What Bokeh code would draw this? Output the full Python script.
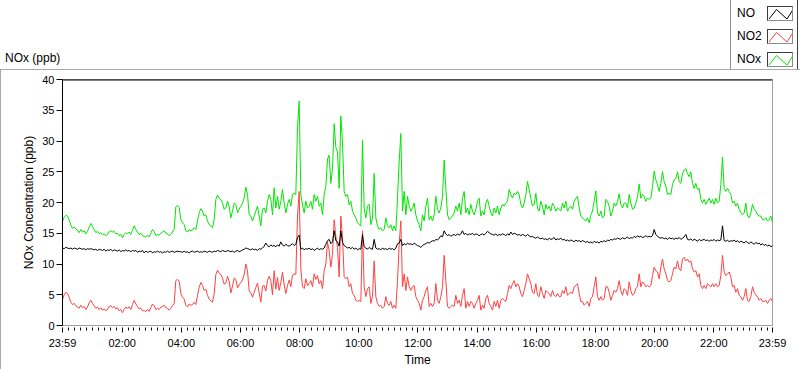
import numpy as np
from bokeh.plotting import figure
from bokeh.layouts import column
from bokeh.models import Range1d, FixedTicker, Span, Div
from bokeh.embed import file_html
from bokeh.resources import INLINE

# ---------------- data (ppb), sampled uniformly from 23:59 to 23:59 next day ----------------
nox_ppb = [
    16.9, 17.6, 17.9, 17.8, 17.2, 16.3, 15.8, 16.0, 15.7, 15.5,
    15.1, 15.6, 15.2, 15.4, 14.9, 15.3, 16.0, 16.6, 16.1, 15.6,
    15.1, 15.3, 14.9, 15.1, 14.8, 14.9, 14.6, 14.8, 15.3, 15.4,
    15.2, 15.3, 14.9, 15.0, 14.6, 14.8, 14.3, 14.8, 15.1, 14.9,
    15.2, 14.8, 15.5, 16.2, 15.6, 15.2, 14.8, 15.0, 14.6, 14.5,
    14.4, 14.7, 14.4, 15.0, 15.6, 15.3, 14.6, 14.8, 14.7, 15.0,
    15.2, 15.4, 15.0, 14.9, 14.6, 14.8, 15.2, 15.6, 19.3, 19.5,
    19.2,
    17.2, 16.7, 16.4, 15.4, 15.2, 15.6, 15.4, 15.5, 15.9, 15.6,
    17.0, 18.3, 19.0, 18.6, 17.8, 18.0, 17.0, 16.4, 16.2, 15.9,
    17.2, 20.5, 21.2, 20.7, 20.5, 19.9, 18.9, 19.1, 20.2, 19.4,
    17.5, 18.6, 19.9, 19.7, 18.3, 18.9, 19.4, 19.9, 20.7, 22.5,
    21.3, 18.0, 17.8, 17.0, 17.8, 18.6, 19.4, 17.8, 16.2, 18.9,
    19.1, 18.3, 20.2, 21.3, 20.5, 18.0, 22.4, 19.1, 21.0, 18.9,
    20.2, 22.1, 19.9, 18.3, 19.7, 20.5, 19.4, 21.3, 21.5, 21.3,
    32.2, 36.5,
    21.3, 19.6, 18.3, 20.2, 19.1, 19.4, 20.2, 18.9, 21.3, 20.2,
    21.0, 19.4, 19.9, 18.0, 21.3, 22.6, 27.1, 27.7, 23.1, 25.5,
    32.8, 29.0, 28.2, 22.3, 34.1, 29.8, 21.8, 21.0, 21.3, 19.6,
    20.2, 18.6, 18.0, 17.5, 16.7, 16.4, 16.2, 30.1, 19.1, 17.5,
    19.4, 19.7, 16.4, 17.5, 24.7, 17.5, 16.2, 15.6, 15.9, 15.4,
    15.6, 17.5, 16.2, 15.9, 16.4, 15.4, 16.2, 15.4, 20.7, 26.6,
    31.2, 18.6, 21.8, 18.0, 21.0, 19.4, 18.6, 19.1, 19.9, 18.0,
    17.0, 16.4,
    15.4, 18.0, 17.0, 19.4, 20.7, 17.2, 17.8, 17.0, 18.0, 21.0,
    18.9, 18.3, 19.1, 21.0, 26.9, 22.3, 18.0, 17.2, 17.5, 17.8,
    18.3, 19.4, 18.6, 19.9, 18.0, 20.7, 21.8, 18.3, 19.1, 18.0,
    19.7, 18.6, 18.0, 18.9, 20.2, 20.7, 17.8, 18.6, 18.0, 19.9,
    20.5, 19.4, 18.3, 17.8, 19.1, 18.3, 19.4, 18.0, 19.1, 19.7,
    19.4, 19.9, 20.2, 22.1, 21.3, 20.7, 21.5, 21.3, 21.8, 21.3,
    19.7, 19.1, 19.9, 21.3, 23.4, 22.1, 20.7, 19.4, 19.7, 21.5,
    19.1, 18.6,
    20.2, 19.4, 18.0, 19.7, 18.9, 19.4, 18.6, 19.9, 19.4, 18.6,
    19.1, 18.9, 18.6, 19.9, 19.1, 20.2, 18.6, 19.1, 19.4, 18.9,
    20.2, 20.7, 21.0, 19.1, 17.8, 17.5, 17.2, 17.0, 17.5, 16.7,
    18.0, 18.6, 20.2, 21.9, 18.3, 17.8, 18.6, 17.5, 17.8, 20.5,
    20.2, 19.4, 17.8, 18.6, 19.9, 19.4, 20.2, 21.4, 19.7, 19.1,
    19.9, 19.9, 19.1, 21.3, 19.9, 18.9, 19.1, 19.9, 20.9, 23.0,
    20.7, 21.3, 21.0, 20.2, 20.7, 20.5, 20.7, 22.6, 25.1, 23.7,
    22.9, 21.8,
    23.1, 25.0, 23.4, 22.6, 21.3, 21.5, 21.3, 22.9, 23.7, 23.9,
    25.0, 23.4, 23.1, 24.7, 25.3, 25.5, 24.7, 24.2, 25.0, 23.1,
    22.3, 23.1, 22.1, 22.3, 20.5, 19.9, 20.5, 19.7, 20.2, 20.7,
    19.9, 20.5, 19.7, 20.7, 19.9, 20.2, 22.9, 27.4, 22.3, 21.8,
    22.3, 21.8, 21.3, 19.9, 20.2, 19.4, 19.9, 18.9, 18.3, 18.0,
    18.3, 19.9, 17.8, 17.5, 18.3, 19.7, 18.9, 18.6, 18.0, 17.8,
    17.8, 17.2, 17.2, 17.5, 17.0, 17.2, 17.8, 16.7,
]

no2_ppb = [
    4.2, 5.0, 5.4, 5.2, 4.6, 3.8, 3.4, 3.6, 3.2, 3.0,
    2.8, 3.3, 2.9, 3.1, 2.6, 3.0, 3.7, 4.1, 3.6, 3.2,
    2.8, 3.0, 2.6, 2.9, 2.5, 2.7, 2.4, 2.6, 3.1, 3.2,
    2.9, 3.1, 2.7, 2.9, 2.4, 2.6, 2.1, 2.6, 3.0, 2.8,
    3.0, 2.6, 3.4, 4.1, 3.5, 3.1, 2.7, 2.8, 2.4, 2.4,
    2.3, 2.6, 2.3, 2.9, 3.5, 3.2, 2.6, 2.8, 2.6, 3.0,
    3.1, 3.3, 2.9, 2.8, 2.5, 2.8, 3.2, 3.6, 7.3, 7.5,
    7.2,
    5.2, 4.6, 4.3, 3.3, 3.0, 3.5, 3.3, 3.4, 3.8, 3.4,
    4.9, 6.2, 7.0, 6.5, 5.7, 5.9, 4.9, 4.3, 4.0, 3.8,
    5.1, 8.3, 9.0, 8.5, 8.3, 7.7, 6.7, 6.9, 8.0, 7.2,
    5.3, 6.4, 7.7, 7.5, 6.1, 6.6, 7.0, 7.4, 8.3, 10.0,
    8.9, 5.6, 5.3, 4.6, 5.4, 6.2, 6.9, 5.3, 3.8, 6.4,
    6.5, 5.6, 7.3, 8.0, 7.3, 5.0, 8.9, 5.9, 7.8, 5.7,
    7.0, 8.7, 6.6, 5.2, 6.5, 7.4, 6.3, 8.2, 8.4, 8.3,
    17.8, 21.8,
    9.2, 6.3, 6.0, 7.6, 6.5, 6.8, 7.3, 6.3, 8.4, 7.5,
    8.1, 6.8, 7.3, 6.0, 8.9, 10.0, 13.5, 12.2, 9.5, 11.6,
    17.2, 14.5, 12.7, 7.9, 17.8, 14.3, 7.9, 7.6, 7.9, 6.3,
    6.8, 5.2, 4.9, 4.1, 3.9, 4.1, 3.9, 15.4, 6.3, 4.7,
    6.0, 6.3, 3.6, 4.7, 10.5, 4.7, 3.6, 3.1, 3.3, 2.8,
    3.1, 4.7, 3.6, 3.3, 3.9, 2.8, 3.3, 2.8, 7.3, 13.2,
    17.0, 6.3, 8.4, 5.7, 7.9, 6.3, 5.7, 6.3, 6.5, 4.7,
    4.1, 3.6,
    2.5, 4.1, 4.7, 5.7, 6.3, 3.1, 3.6, 3.1, 3.6, 6.8,
    4.1, 3.6, 4.7, 6.3, 11.4, 7.3, 3.1, 2.8, 3.1, 3.3,
    3.1, 4.9, 3.6, 4.1, 3.1, 4.9, 6.0, 2.8, 3.9, 3.1,
    3.9, 3.6, 2.8, 3.6, 4.1, 4.9, 2.5, 3.3, 2.8, 4.4,
    4.9, 3.6, 3.1, 2.5, 3.9, 3.1, 4.1, 2.8, 4.1, 4.4,
    4.1, 3.9, 5.2, 6.5, 6.0, 6.8, 7.3, 6.3, 6.8, 6.3,
    5.2, 4.7, 5.7, 6.8, 8.4, 7.6, 6.8, 5.4, 5.2, 6.8,
    4.9, 4.7,
    6.3, 5.2, 4.4, 5.7, 5.4, 5.2, 4.7, 5.7, 4.9, 4.7,
    5.2, 4.7, 4.7, 5.7, 5.2, 6.3, 4.9, 5.2, 5.4, 5.2,
    6.3, 6.5, 6.8, 5.2, 3.9, 3.9, 3.3, 3.6, 3.9, 3.1,
    4.4, 4.7, 6.3, 7.9, 4.7, 4.1, 4.7, 4.1, 4.4, 6.3,
    6.3, 5.4, 4.1, 4.9, 5.7, 5.4, 6.0, 7.3, 5.7, 4.9,
    6.0, 5.7, 4.9, 7.1, 5.7, 4.9, 5.2, 6.0, 6.3, 8.4,
    6.3, 7.1, 6.8, 6.3, 6.5, 6.3, 6.5, 8.1, 9.5, 8.9,
    8.7, 7.6,
    9.5, 10.8, 9.2, 8.4, 7.3, 7.1, 7.3, 8.4, 9.5, 9.2,
    10.5, 9.2, 8.9, 10.8, 11.1, 10.5, 10.8, 10.3, 10.5, 9.2,
    8.7, 8.9, 7.9, 8.4, 6.5, 6.0, 6.5, 6.0, 6.8, 6.5,
    6.3, 6.8, 6.3, 6.8, 6.3, 6.5, 8.1, 11.4, 8.7, 8.1,
    8.4, 8.7, 7.9, 6.3, 6.5, 5.4, 6.0, 4.9, 4.7, 4.1,
    4.7, 6.0, 4.1, 3.9, 4.7, 6.3, 5.4, 4.9, 4.7, 4.1,
    4.4, 3.9, 3.9, 4.1, 3.6, 4.1, 4.4, 3.9,
]

no_ppb = [
    12.6, 12.5, 12.7, 12.6, 12.5, 12.6, 12.4, 12.6, 12.5, 12.4,
    12.6, 12.5, 12.4, 12.5, 12.3, 12.5, 12.4, 12.5, 12.4, 12.3,
    12.4, 12.2, 12.4, 12.3, 12.2, 12.4, 12.1, 12.3, 12.2, 12.4,
    12.1, 12.3, 12.2, 12.1, 12.3, 12.0, 12.2, 12.1, 12.3, 12.1,
    12.2, 12.0, 12.2, 12.1, 12.2, 11.9, 12.1, 12.0, 12.2, 11.8,
    12.1, 11.9, 12.0, 12.1, 11.8, 12.0, 11.9, 12.1, 11.9, 12.0,
    11.8, 12.0, 11.9, 12.1, 11.9, 12.0, 12.1, 11.9, 12.0, 12.1,
    12.0,
    12.0, 11.9, 12.1, 11.9, 12.0, 11.8, 12.0, 12.1, 11.9, 12.0,
    12.1, 11.9, 12.0, 11.9, 12.1, 12.0, 11.9, 12.1, 12.0, 11.9,
    12.1, 12.0, 12.2, 12.1, 12.0, 12.2, 12.1, 12.0, 12.2, 12.1,
    12.0, 12.1, 11.9, 12.1, 12.2, 12.0, 12.1, 12.3, 12.4, 12.6,
    12.5, 12.4, 12.3, 12.5, 12.3, 12.4, 12.2, 12.5, 12.4, 12.6,
    12.9, 13.4, 13.0, 12.8, 13.1, 12.9, 13.0, 12.8, 13.1, 12.9,
    13.6, 13.1, 12.9, 13.2, 13.0, 12.9, 13.1, 13.3, 13.0, 13.2,
    14.3, 14.7,
    12.4, 12.6, 12.3, 12.5, 12.4, 12.6, 12.3, 12.5, 12.2, 12.4,
    12.6, 12.3, 12.5, 12.4, 12.6,
    13.2, 13.8, 14.0, 13.3, 13.6, 15.4, 13.8, 13.6, 12.9, 15.4,
    13.5, 13.0, 12.8, 12.6, 12.7,
    12.5, 12.7, 12.4, 12.6, 12.3, 12.5, 12.4, 14.8, 12.8, 12.6,
    12.4, 12.7, 12.5, 12.4, 14.0,
    12.6, 12.4, 12.5, 12.3, 12.6, 12.4, 12.5, 12.3, 12.6, 12.4,
    12.5, 12.3, 12.6, 13.3, 13.4,
    14.0, 13.0, 13.3, 13.1, 13.4, 13.2, 13.3, 13.1, 13.4, 13.2,
    13.0, 12.9,
    12.7, 13.0, 13.2, 13.3, 13.5, 13.4, 13.6, 13.8, 13.7, 14.0,
    13.9, 14.2, 14.6, 14.4, 15.4,
    14.9, 14.6, 14.8, 14.5, 14.7, 14.8, 14.6, 14.9, 14.7, 14.9,
    15.4, 14.8, 15.0, 14.7, 14.9,
    14.8, 15.0, 14.7, 14.9, 14.8, 14.6, 14.8, 14.9, 14.7, 15.0,
    15.3, 15.1, 14.9, 14.8, 14.7,
    14.9, 14.6, 14.8, 14.7, 14.9, 14.8, 14.6, 14.9, 14.7, 15.2,
    14.8, 15.0, 14.9, 14.7, 14.8,
    14.6, 14.8, 14.7, 14.5, 14.8, 14.6, 14.4, 14.5, 14.3, 14.2,
    14.4, 14.2,
    14.1, 14.2, 14.0, 14.1, 13.9, 14.2, 14.0, 14.1, 14.3, 13.9,
    14.1, 14.0, 14.2, 13.9, 14.0,
    13.8, 13.9, 13.7, 13.9, 13.8, 13.6, 13.9, 13.7, 13.8, 13.6,
    13.8, 13.7, 13.5, 13.7, 13.4,
    13.6, 13.4, 13.7, 13.5, 13.6, 13.4, 13.7, 13.6, 13.8, 13.6,
    13.9, 13.8, 14.0, 13.9, 14.1,
    14.0, 14.2, 14.1, 14.0, 14.3, 14.1, 14.2, 14.4, 14.1, 14.3,
    14.2, 14.5, 14.3, 14.6, 14.4,
    14.5, 14.3, 14.4, 14.6, 14.4, 14.5, 14.4, 14.6, 15.6, 14.8,
    14.5, 14.3,
    14.2, 14.3, 14.1, 14.2, 14.0, 14.3, 14.1, 14.2, 14.0, 14.2,
    14.1, 14.3, 14.0, 14.2, 14.4,
    14.8, 14.0, 13.9, 14.1, 13.8, 14.0, 13.9, 13.7, 14.0, 13.8,
    13.9, 14.0, 13.8, 13.9, 13.7,
    13.9, 13.8, 14.0, 13.7, 13.9, 13.8, 13.9, 16.2, 13.8, 13.7,
    13.9, 13.6, 13.8, 13.7, 13.9,
    13.6, 13.8, 13.5, 13.7, 13.6, 13.4, 13.7, 13.5, 13.3, 13.6,
    13.4, 13.2, 13.5, 13.3, 13.4,
    13.1, 13.3, 13.0, 13.2, 12.9, 13.1, 12.8, 13.0,
]

series_names = ["NO", "NO2", "NOx"]
series_colors = ["#000000", "#ff4040", "#00e600"]

# time axis: minutes after 23:59
tick_minutes = [0, 121, 241, 361, 481, 601, 721, 841, 961, 1081, 1201, 1321, 1440]
tick_labels = ["23:59", "02:00", "04:00", "06:00", "08:00", "10:00", "12:00",
               "14:00", "16:00", "18:00", "20:00", "22:00", "23:59"]
y_ticks = [0, 5, 10, 15, 20, 25, 30, 35, 40]

FONT = "Liberation Sans"

# ---------------- header strip: "NOx (ppb)" caption and legend (HTML) ----------------
rows_html = ""
for i, (name, col) in enumerate(zip(series_names, series_colors)):
    top_txt = 6 + 23 * i
    top_box = 6 + 23 * i
    rows_html += (
        f'<span style="position:absolute;left:737px;top:{top_txt}px;line-height:14px;">{name}</span>'
        f'<svg width="26" height="15" style="position:absolute;left:767px;top:{top_box}px;'
        f'border-style:solid;border-width:1px;border-color:#3c3c3c #8c8c8c #8c8c8c #3c3c3c;'
        f'background:#fff;">'
        f'<polyline points="1,12 8.5,2.5 19,12 25,2.5" fill="none" stroke="{col}" '
        f'stroke-width="1"/></svg>'
    )

header_html = (
    f'<div style="position:relative;width:800px;height:69px;font-family:\'{FONT}\',Arial,sans-serif;'
    f'font-size:12px;color:#000;">'
    f'<span style="position:absolute;left:5px;top:51px;line-height:14px;">NOx (ppb)</span>'
    f'<div style="position:absolute;left:730px;top:0px;width:68px;height:69px;background:#fff;'
    f'border-left:1px solid #8c8c8c;border-right:1px solid #404040;box-sizing:border-box;"></div>'
    f'{rows_html}</div>'
)
hdr = Div(text=header_html, width=800, height=69, margin=0)

# ---------------- main chart ----------------
p = figure(width=800, height=300, output_backend="svg", toolbar_location=None,
           x_range=Range1d(0, 1440), y_range=Range1d(0, 40),
           min_border_left=62, min_border_right=28, min_border_top=10, min_border_bottom=40,
           background_fill_color="white", border_fill_color="white",
           outline_line_color="#a0a0a0", margin=0,
           styles={"outline": "1px solid #8c8c8c", "outline-offset": "-1px"})
p.grid.visible = False

minor = [m for m in range(13, 1440, 12) if m not in tick_minutes]

xa = p.xaxis[0]
xa.ticker = FixedTicker(ticks=tick_minutes, minor_ticks=minor)
xa.major_label_overrides = {t: l for t, l in zip(tick_minutes, tick_labels)}
xa.axis_label = "Time"
xa.axis_line_color = "#a0a0a0"
xa.major_tick_in = -2
xa.major_tick_out = 7
xa.minor_tick_in = -2
xa.minor_tick_out = 5
xa.major_tick_line_color = "black"
xa.minor_tick_line_color = "black"
xa.major_label_standoff = 4
xa.axis_label_standoff = 1

ya = p.yaxis[0]
ya.ticker = FixedTicker(ticks=y_ticks)
ya.axis_label = "NOx Concentration (ppb)"
ya.axis_line_color = "black"
ya.major_tick_in = 0
ya.major_tick_out = 6
ya.minor_tick_line_color = None
ya.major_tick_line_color = "black"
ya.major_label_standoff = 2
ya.axis_label_standoff = 3

for ax in (xa, ya):
    ax.major_label_text_font = FONT
    ax.major_label_text_font_size = "11px"
    ax.major_label_text_color = "black"
    ax.axis_label_text_font = FONT
    ax.axis_label_text_font_size = "12px"
    ax.axis_label_text_font_style = "normal"
    ax.axis_label_text_color = "black"

p.add_layout(Span(location=40, dimension="width", line_color="black", line_width=2))

series = [no_ppb, no2_ppb, nox_ppb]
for vals, col in list(zip(series, series_colors))[::-1]:
    t = np.linspace(0, 1440, len(vals))
    p.line(t, vals, line_color=col, line_width=1)

layout = column(hdr, p, spacing=0)
open("out.html", "w").write(file_html(layout, INLINE))
